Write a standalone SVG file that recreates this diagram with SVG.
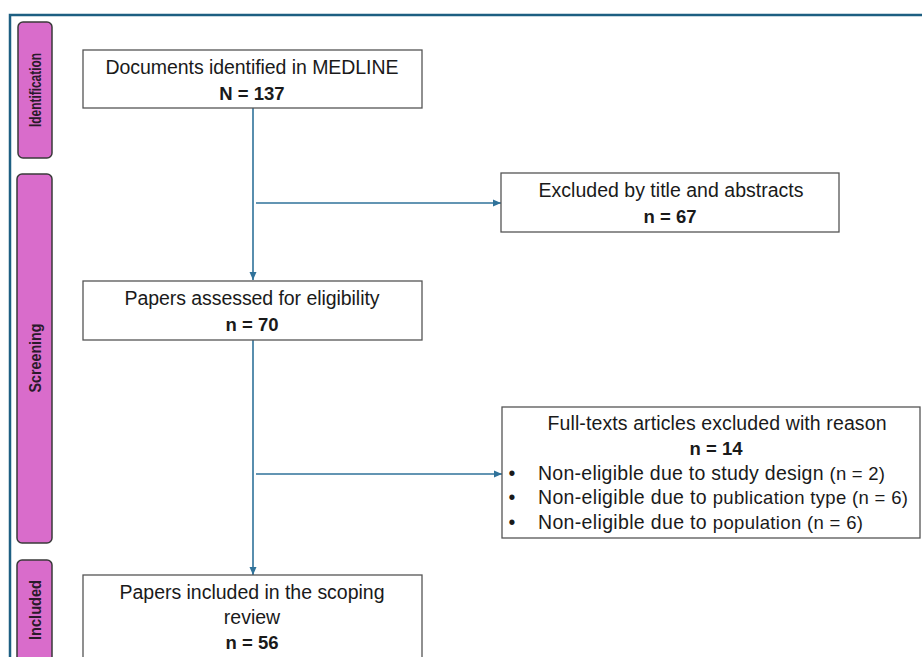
<svg xmlns="http://www.w3.org/2000/svg" width="922" height="657" viewBox="0 0 922 657">
<style>
.bar{fill:#d96ccb;stroke:#3a3a3a;stroke-width:1.5}
.box{fill:#ffffff;stroke:#555555;stroke-width:1.3}
.t{font-family:"Liberation Sans",Arial,sans-serif;font-size:19.5px;fill:#1a1a1a;text-anchor:middle}
.b{font-weight:bold;font-size:18.5px}
.l{text-anchor:start}
.s{font-size:18.5px}
.side{font-family:"Liberation Sans",Arial,sans-serif;font-weight:bold;font-size:16.5px;fill:#2a1a2a;text-anchor:middle}
.c{fill:none;stroke:#2f729a;stroke-width:1.6}
</style>
<defs>
<marker id="ah" viewBox="0 0 8 8" refX="8" refY="4" markerWidth="8" markerHeight="8" markerUnits="userSpaceOnUse" orient="auto">
<path d="M0,0.5 L8,4 L0,7.5 Z" fill="#2f729a"/>
</marker>
</defs>
<rect width="922" height="657" fill="#ffffff"/>
<g id="frame">
<path d="M10,657 L10,15 L922,15" fill="none" stroke="#1d5f82" stroke-width="2.5"/>
</g>
<g id="bar-identification">
<rect class="bar" x="18" y="22" width="34" height="136" rx="5"/>
<text class="side" transform="translate(41,90) rotate(-90)" textLength="74" lengthAdjust="spacingAndGlyphs">Identification</text>
</g>
<g id="bar-screening">
<rect class="bar" x="17" y="174" width="35" height="369" rx="5"/>
<text class="side" transform="translate(41,358) rotate(-90)" textLength="69" lengthAdjust="spacingAndGlyphs">Screening</text>
</g>
<g id="bar-included">
<rect class="bar" x="17" y="560" width="35" height="110" rx="5"/>
<text class="side" transform="translate(41,610) rotate(-90)" textLength="60" lengthAdjust="spacingAndGlyphs">Included</text>
</g>
<g id="connectors">
<path class="c" d="M253,108 L253,280" marker-end="url(#ah)"/>
<path class="c" d="M256,203 L501,203" marker-end="url(#ah)"/>
<path class="c" d="M253,340 L253,575" marker-end="url(#ah)"/>
<path class="c" d="M256,474 L502,474" marker-end="url(#ah)"/>
</g>
<g id="node-identified">
<rect class="box" x="83" y="50" width="339" height="58"/>
<text class="t" x="252" y="74" textLength="293">Documents identified in MEDLINE</text>
<text class="t b" x="252" y="100">N = 137</text>
</g>
<g id="node-excluded-title">
<rect class="box" x="501" y="173" width="338" height="59"/>
<text class="t" x="671" y="197" textLength="265">Excluded by title and abstracts</text>
<text class="t b" x="670" y="223">n = 67</text>
</g>
<g id="node-assessed">
<rect class="box" x="83" y="281" width="339" height="59"/>
<text class="t" x="252" y="305" textLength="255">Papers assessed for eligibility</text>
<text class="t b" x="252" y="331">n = 70</text>
</g>
<g id="node-fulltext-excluded">
<rect class="box" x="502" y="407" width="418" height="131"/>
<text class="t" x="717" y="430" textLength="339">Full-texts articles excluded with reason</text>
<text class="t b" x="716" y="455">n = 14</text>
<text class="t" x="512" y="480">•</text>
<text class="t l" x="538" y="480" textLength="347">Non-eligible due to study design <tspan class="s">(n = 2)</tspan></text>
<text class="t" x="512" y="504">•</text>
<text class="t l" x="538" y="504" textLength="370">Non-eligible due to <tspan class="s">publication type (n = 6)</tspan></text>
<text class="t" x="512" y="529">•</text>
<text class="t l" x="538" y="529" textLength="325">Non-eligible due to <tspan class="s">population (n = 6)</tspan></text>
</g>
<g id="node-included">
<rect class="box" x="83" y="575" width="339" height="100"/>
<text class="t" x="252" y="599" textLength="265">Papers included in the scoping</text>
<text class="t" x="252" y="624">review</text>
<text class="t b" x="252" y="649">n = 56</text>
</g>
</svg>
